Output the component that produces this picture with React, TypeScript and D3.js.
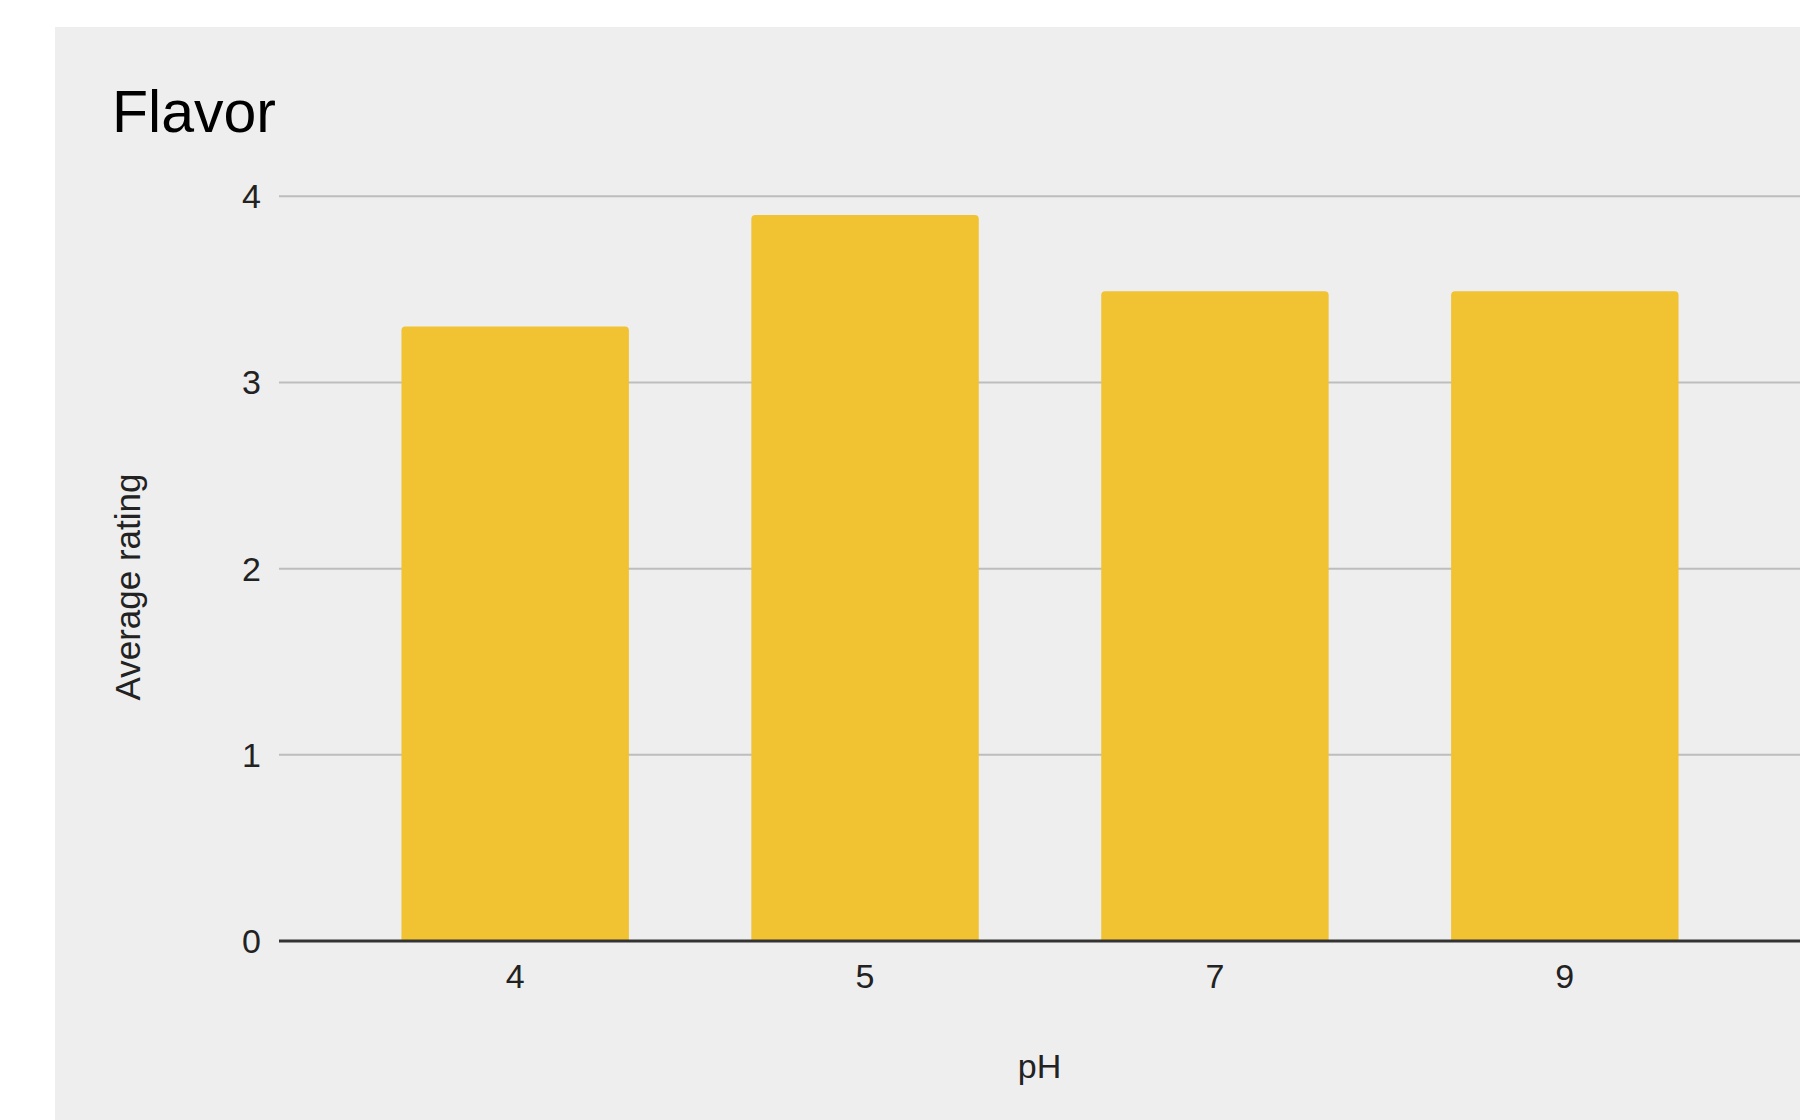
import React from "react";
import * as d3 from "d3";

const categories = ["4", "5", "7", "9"];
const ratings = [3.3, 3.9, 3.49, 3.49];
const yTicks = [0, 1, 2, 3, 4];

const W = 1800;
const H = 1120;
const FONT = "'Liberation Sans', Arial, sans-serif";

export default function App() {
  const plotLeft = 279;
  const plotRight = 1801;
  const plotTop = 196.3;
  const plotBottom = 941;

  const x = d3
    .scaleBand<string>()
    .domain(categories)
    .range([plotLeft, plotRight])
    .paddingInner(0.35)
    .paddingOuter(0.35);
  const y = d3.scaleLinear().domain([0, 4]).range([plotBottom, plotTop]);

  return (
    <svg
      width={W}
      height={H}
      style={{ position: "absolute", left: 0, top: 0, display: "block" }}
    >
      <rect x={0} y={0} width={W} height={H} fill="#ffffff" />
      <rect x={55} y={27} width={W - 55} height={H - 27} fill="#eeeeee" />
      <text x={112} y={132} fontFamily={FONT} fontSize={59} fill="#000">
        Flavor
      </text>
      {yTicks.map((t) => (
        <g key={t}>
          {t !== 0 && (
            <line
              x1={plotLeft}
              x2={W}
              y1={y(t)}
              y2={y(t)}
              stroke="#bdbdbd"
              strokeWidth={2}
            />
          )}
          <text
            x={261}
            y={y(t)}
            dy="0.35em"
            textAnchor="end"
            fontFamily={FONT}
            fontSize={34}
            fill="#222"
          >
            {t}
          </text>
        </g>
      ))}
      {categories.map((c, i) => (
        <path
          key={c}
          d={(() => {
            const x0 = x(c)!;
            const w = x.bandwidth();
            const y0 = y(ratings[i]);
            const r = 4;
            return `M${x0},${plotBottom} V${y0 + r} Q${x0},${y0} ${x0 + r},${y0} H${x0 + w - r} Q${x0 + w},${y0} ${x0 + w},${y0 + r} V${plotBottom} Z`;
          })()}
          fill="#f1c232"
        />
      ))}
      <line
        x1={plotLeft}
        x2={W}
        y1={plotBottom}
        y2={plotBottom}
        stroke="#333333"
        strokeWidth={3}
      />
      {categories.map((c) => (
        <text
          key={c}
          x={x(c)! + x.bandwidth() / 2}
          y={988}
          textAnchor="middle"
          fontFamily={FONT}
          fontSize={34}
          fill="#222"
        >
          {c}
        </text>
      ))}
      <text
        x={(plotLeft + W) / 2}
        y={1078}
        textAnchor="middle"
        fontFamily={FONT}
        fontSize={34}
        fill="#222"
      >
        pH
      </text>
      <text
        transform={`translate(139.5,587) rotate(-90)`}
        textAnchor="middle"
        fontFamily={FONT}
        fontSize={35}
        fill="#222"
      >
        Average rating
      </text>
    </svg>
  );
}
